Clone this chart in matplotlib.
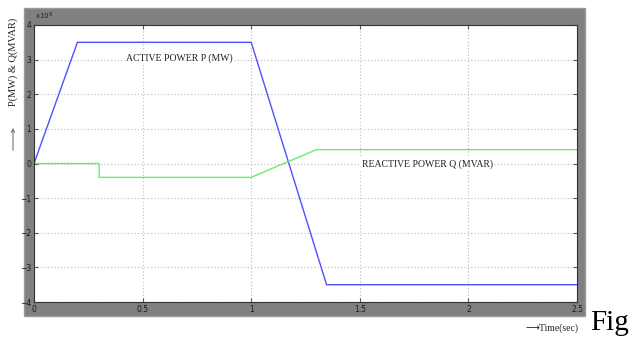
import numpy as np
import matplotlib
matplotlib.use("Agg")
from matplotlib import pyplot as plt
from matplotlib.patches import Rectangle, FancyArrowPatch

# Active power P (x1e8) breakpoints
t_p = [0.0, 0.2, 1.0, 1.347, 2.5]
p_vals = [0.0, 3.5, 3.5, -3.5, -3.5]

# Reactive power Q (x1e8) breakpoints
t_q = [0.0, 0.3, 0.3, 1.0, 1.3, 2.5]
q_vals = [0.0, 0.0, -0.4, -0.4, 0.4, 0.4]

x_ticks = [0, 0.5, 1, 1.5, 2, 2.5]
x_labels = ["0", "0.5", "1", "1.5", "2", "2.5"]
y_ticks = [-4, -3, -2, -1, 0, 1, 2, 3, 4]

W, H = 631, 344
fig = plt.figure(figsize=(W / 100, H / 100), dpi=100)
fig.patch.set_facecolor("white")

# grey MATLAB-style figure panel
panel = Rectangle((24 / W, 1 - 316 / H), (585 - 24) / W, (316 - 8) / H,
                  transform=fig.transFigure, facecolor="#808080",
                  edgecolor="#9a9a9a", lw=1, zorder=-5)
fig.patches.append(panel)

ax = fig.add_axes([34 / W, 1 - 302 / H, (577 - 34) / W, (302 - 25) / H], zorder=2)
ax.set_facecolor("white")
ax.plot(t_p, p_vals, color="#5050ff", lw=1.0)
ax.plot(t_q, q_vals, color="#66ee66", lw=1.0)

ax.set_xlim(0, 2.5)
ax.set_ylim(-4, 4)
ax.set_xticks(x_ticks)
ax.set_xticklabels(x_labels)
ax.set_yticks(y_ticks)
ax.tick_params(direction="in", length=3, width=0.8, colors="#555555",
               labelsize=5.5, labelcolor="#1a1a1a", pad=2,
               top=True, right=True)
ax.grid(True, linestyle=(0, (1, 2)), color="#bbbbbb", lw=0.8)
for s in ax.spines.values():
    s.set_color("#333333")
    s.set_linewidth(0.8)

ax.text(0.67, 3.05, "ACTIVE POWER P (MW)", family="Liberation Serif", fontsize=7,
        ha="center", va="center", color="#222222",
        bbox=dict(facecolor="white", edgecolor="none", pad=1))
ax.text(1.81, -0.03, "REACTIVE POWER Q (MVAR)", family="Liberation Serif", fontsize=7,
        ha="center", va="center", color="#222222",
        bbox=dict(facecolor="white", edgecolor="none", pad=1))

fig.text(35 / W, 1 - 16 / H, r"x10$^{8}$", fontsize=5, color="#222222", va="center", zorder=3)

fig.text(13 / W, 1 - 62 / H, "P(MW) & Q(MVAR)", rotation=90, family="Liberation Serif",
         fontsize=7.5, ha="center", va="center", color="#222222")
fig.patches.append(FancyArrowPatch(
    (13 / W, 1 - 153 / H), (13 / W, 1 - 125 / H), transform=fig.transFigure,
    arrowstyle="->", mutation_scale=6, color="#777777", lw=0.8))

fig.text(578 / W, 1 - 328 / H, "\u27f6Time(sec)", family=["Liberation Serif", "DejaVu Sans"],
         fontsize=7, ha="right", va="center", color="#222222")
fig.text(590 / W, 1 - 323 / H, "Fig", family="Liberation Serif", fontsize=21,
         ha="left", va="center", color="black")

fig.savefig("out.png", dpi=100, facecolor="white")
